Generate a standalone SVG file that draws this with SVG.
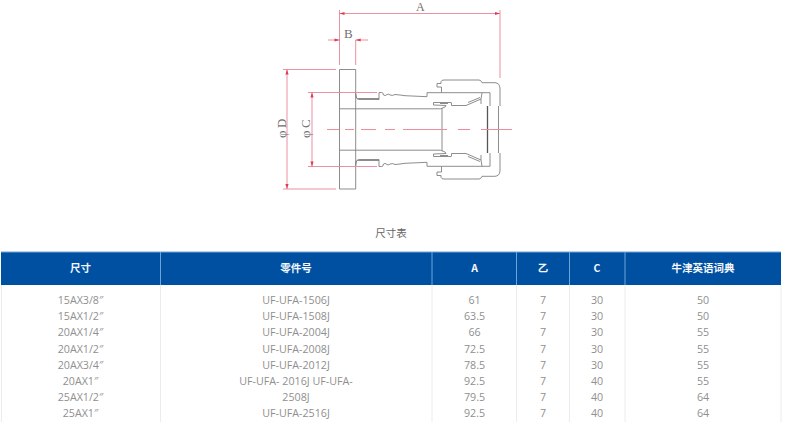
<svg xmlns="http://www.w3.org/2000/svg" width="800" height="422" viewBox="0 0 800 422">
<style>
.o{fill:none;stroke:#808080;stroke-width:.9}
.k{fill:none;stroke:#555;stroke-width:1.3}
.r{fill:none;stroke:#e98496;stroke-width:.9}
.c{fill:none;stroke:#ee8c9c;stroke-width:1}
.a{fill:#e23a55;stroke:none}
.d{font-family:"Liberation Serif",serif;font-size:13px;fill:#707070}
.h{font-family:"Noto Sans CJK SC","Open Sans",sans-serif;font-size:10.5px;font-weight:700;fill:#f4f7fb;text-anchor:middle}
.t{font-family:"Open Sans","Noto Sans CJK SC",sans-serif;font-size:10.7px;fill:#8f8f8f;text-anchor:middle}
.v{stroke:#ececec;stroke-width:1}
.s{stroke:#6fa3d8;stroke-width:1}
</style>
<defs>
<g id="half">
<path class="o" d="M355.7 93Q355.7 99 358.5 99.5H379V92.5H381.5Q383 92 383.5 95Q385 96.5 387 94.5Q389 93.5 390 95Q393 96 395 94.5L400 95L405 95.7L427 96.7V92.7H441.5V87H437V83.5H441V81.5Q441.5 80 444 80H479Q481 80 482 82.7H495Q499.5 83 500 88V106"/>
<path class="o" d="M355.7 94.5Q356 99.5 359 98.5H379"/>
<path class="o" d="M441.5 92.7H482"/>
<path class="o" d="M339.5 108.8H440.5L445 107L446 105.5L433.5 105V102.5H451M451.5 102.5V105.5H466L481 99V104M440 103.5H448M468 102.5L480 97.5M481 99L482 92.7H490V106"/>
<path class="k" d="M487.5 106V129.5"/>
<path class="o" d="M442 108V129.5M498.5 106V129.5"/>
</g>
<path id="h" class="a" d="M0 0L-5 -1.6V1.6Z"/>
</defs>
<rect width="800" height="422" fill="#fff"/>
<g id="drawing">
<path class="o" d="M339.5 69.5H355.7V189H339.5Z"/>
<use href="#half"/>
<use href="#half" transform="matrix(1 0 0 -1 0 259)"/>
</g>
<g id="connectors">
<path class="r" d="M339.5 10V65M500 10V78M339.5 13.5H500"/>
<path class="r" d="M355.7 40V65M328 40H339.5M355.7 40H368"/>
<path class="r" d="M283 69.5H336M283 189H336M287 69.5V189"/>
<path class="r" d="M308 92.5H377M308 166.5H377M312 92.5V166.5"/>
<path class="c" d="M327 129.5H339M345 129.5H354M361 129.5H376M385 129.5H395M403 129.5H447M458 129.5H470M481 129.5H512"/>
<use href="#h" transform="translate(339.5 13.5) rotate(180)"/>
<use href="#h" transform="translate(500 13.5)"/>
<use href="#h" transform="translate(339.5 40)"/>
<use href="#h" transform="translate(355.7 40) rotate(180)"/>
<use href="#h" transform="translate(287 69.5) rotate(-90)"/>
<use href="#h" transform="translate(287 189) rotate(90)"/>
<use href="#h" transform="translate(312 92.5) rotate(-90)"/>
<use href="#h" transform="translate(312 166.5) rotate(90)"/>
</g>
<g id="labels">
<text class="d" x="416" y="11" font-size="12" style="font-size:12px">A</text>
<text class="d" x="344" y="38">B</text>
<text class="d" transform="translate(286 138) rotate(-90)" letter-spacing="2.500">φD</text>
<text class="d" transform="translate(310 138) rotate(-90)" letter-spacing="2.500">φC</text>
<text x="391" y="237" text-anchor="middle" font-family="'Noto Sans CJK SC',sans-serif" font-size="10.500" fill="#666">尺寸表</text>
</g>
<g id="table">
<path class="v" d="M160.5 285V422M432 285V422M516.500 285V422M569.500 285V422M625 285V422M781 285V422M1.500 285V422"/>
<rect x="1" y="252" width="780" height="33" fill="#0050a2"/>
<path class="s" d="M160.5 252V285M432 252V285M516.500 252V285M569.500 252V285M625 252V285M1 252H781"/>
<g>
<text class="h" x="80.500" y="272">尺寸</text>
<text class="h" x="296" y="272">零件号</text>
<text class="h" x="474.500" y="272">A</text>
<text class="h" x="543" y="272">乙</text>
<text class="h" x="597" y="272">C</text>
<text class="h" x="703" y="272">牛津英语词典</text>
</g>
<g>
<text class="t" x="80.500" y="304">15AX3/8″</text><text class="t" x="296" y="304">UF-UFA-1506J</text><text class="t" x="474.500" y="304">61</text><text class="t" x="543" y="304">7</text><text class="t" x="597" y="304">30</text><text class="t" x="703" y="304">50</text>
<text class="t" x="80.500" y="320">15AX1/2″</text><text class="t" x="296" y="320">UF-UFA-1508J</text><text class="t" x="474.500" y="320">63.5</text><text class="t" x="543" y="320">7</text><text class="t" x="597" y="320">30</text><text class="t" x="703" y="320">50</text>
<text class="t" x="80.500" y="336">20AX1/4″</text><text class="t" x="296" y="336">UF-UFA-2004J</text><text class="t" x="474.500" y="336">66</text><text class="t" x="543" y="336">7</text><text class="t" x="597" y="336">30</text><text class="t" x="703" y="336">55</text>
<text class="t" x="80.500" y="353">20AX1/2″</text><text class="t" x="296" y="353">UF-UFA-2008J</text><text class="t" x="474.500" y="353">72.5</text><text class="t" x="543" y="353">7</text><text class="t" x="597" y="353">30</text><text class="t" x="703" y="353">55</text>
<text class="t" x="80.500" y="369">20AX3/4″</text><text class="t" x="296" y="369">UF-UFA-2012J</text><text class="t" x="474.500" y="369">78.5</text><text class="t" x="543" y="369">7</text><text class="t" x="597" y="369">30</text><text class="t" x="703" y="369">55</text>
<text class="t" x="80.500" y="385">20AX1″</text><text class="t" x="296" y="385">UF-UFA- 2016J UF-UFA-</text><text class="t" x="474.500" y="385">92.5</text><text class="t" x="543" y="385">7</text><text class="t" x="597" y="385">40</text><text class="t" x="703" y="385">55</text>
<text class="t" x="80.500" y="401">25AX1/2″</text><text class="t" x="296" y="401">2508J</text><text class="t" x="474.500" y="401">79.5</text><text class="t" x="543" y="401">7</text><text class="t" x="597" y="401">40</text><text class="t" x="703" y="401">64</text>
<text class="t" x="80.500" y="417">25AX1″</text><text class="t" x="296" y="417">UF-UFA-2516J</text><text class="t" x="474.500" y="417">92.5</text><text class="t" x="543" y="417">7</text><text class="t" x="597" y="417">40</text><text class="t" x="703" y="417">64</text>
</g>
</g>
</svg>
